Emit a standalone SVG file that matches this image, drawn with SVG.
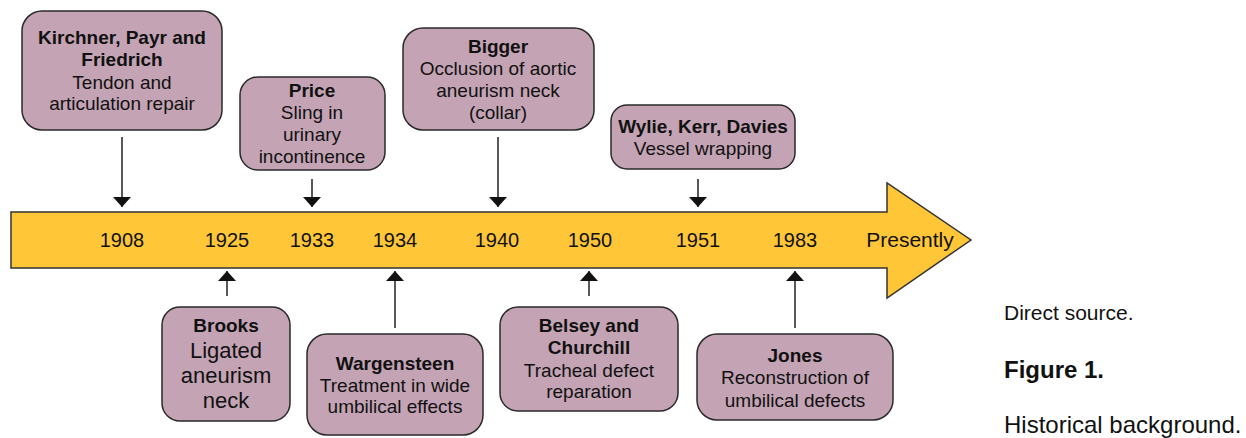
<svg xmlns="http://www.w3.org/2000/svg" width="1246" height="438" viewBox="0 0 1246 438">
<style>
.node{fill:#C4A4B4;stroke:#2a2a2a;stroke-width:1.5}
.t{font-family:"Liberation Sans",Arial,sans-serif;font-size:19px;fill:#111;text-anchor:middle}
.b{font-weight:bold}
.big{font-size:22px}
.yr{font-family:"Liberation Sans",Arial,sans-serif;font-size:20px;fill:#111;text-anchor:middle}
.pres{font-size:21px}
.cap{font-family:"Liberation Sans",Arial,sans-serif;fill:#111}
.con{stroke:#222;stroke-width:1.5;fill:none;marker-end:url(#ah)}
</style>
<defs>
<marker id="ah" viewBox="0 -9 10 18" refX="10" refY="0" markerWidth="10" markerHeight="18" markerUnits="userSpaceOnUse" orient="auto">
<path d="M0,-9 L10,0 L0,9 z" fill="#111"/>
</marker>
</defs>
<rect width="1246" height="438" fill="#fff"/>
<g id="timeline">
<polygon points="11,212 887,212 887,183 971,240 887,298 887,268 11,268" fill="#FFC638" stroke="#333" stroke-width="1.5"/>
<text class="yr" x="122" y="247">1908</text>
<text class="yr" x="227" y="247">1925</text>
<text class="yr" x="312" y="247">1933</text>
<text class="yr" x="395" y="247">1934</text>
<text class="yr" x="497" y="247">1940</text>
<text class="yr" x="590" y="247">1950</text>
<text class="yr" x="698" y="247">1951</text>
<text class="yr" x="795" y="247">1983</text>
<text class="yr pres" x="910" y="247">Presently</text>
</g>
<g id="connectors">
<line class="con" x1="122" y1="137" x2="122" y2="207"/>
<line class="con" x1="312" y1="179" x2="312" y2="207"/>
<line class="con" x1="498" y1="137" x2="498" y2="207"/>
<line class="con" x1="698" y1="179" x2="698" y2="207"/>
<line class="con" x1="227" y1="296" x2="227" y2="271"/>
<line class="con" x1="395" y1="328" x2="395" y2="271"/>
<line class="con" x1="589" y1="296" x2="589" y2="271"/>
<line class="con" x1="795" y1="328" x2="795" y2="271"/>
</g>
<g id="kirchner">
<rect class="node" x="22" y="11" width="200" height="119" rx="20"/>
<text class="t b" x="122" y="44">Kirchner, Payr and</text>
<text class="t b" x="122" y="66">Friedrich</text>
<text class="t" x="122" y="89">Tendon and</text>
<text class="t" x="122" y="110">articulation repair</text>
</g>
<g id="price">
<rect class="node" x="240" y="77" width="145" height="93" rx="18"/>
<text class="t b" x="312" y="97">Price</text>
<text class="t" x="312" y="119">Sling in</text>
<text class="t" x="312" y="141">urinary</text>
<text class="t" x="312" y="163">incontinence</text>
</g>
<g id="bigger">
<rect class="node" x="403" y="28" width="191" height="102" rx="20"/>
<text class="t b" x="498" y="53">Bigger</text>
<text class="t" x="498" y="75">Occlusion of aortic</text>
<text class="t" x="498" y="97">aneurism neck</text>
<text class="t" x="498" y="119">(collar)</text>
</g>
<g id="wylie">
<rect class="node" x="611" y="105" width="184" height="64" rx="16"/>
<text class="t b" x="703" y="133">Wylie, Kerr, Davies</text>
<text class="t" x="703" y="155">Vessel wrapping</text>
</g>
<g id="brooks">
<rect class="node" x="162" y="307" width="128" height="114" rx="18"/>
<text class="t b" x="226" y="332">Brooks</text>
<text class="t big" x="226" y="358">Ligated</text>
<text class="t big" x="226" y="383">aneurism</text>
<text class="t big" x="226" y="408">neck</text>
</g>
<g id="wargensteen">
<rect class="node" x="307" y="334" width="176" height="101" rx="20"/>
<text class="t b" x="395" y="370">Wargensteen</text>
<text class="t" x="395" y="392">Treatment in wide</text>
<text class="t" x="395" y="413">umbilical effects</text>
</g>
<g id="belsey">
<rect class="node" x="500" y="307" width="178" height="104" rx="18"/>
<text class="t b" x="589" y="332">Belsey and</text>
<text class="t b" x="589" y="354">Churchill</text>
<text class="t" x="589" y="377">Tracheal defect</text>
<text class="t" x="589" y="398">reparation</text>
</g>
<g id="jones">
<rect class="node" x="697" y="334" width="196" height="86" rx="20"/>
<text class="t b" x="795" y="362">Jones</text>
<text class="t" x="795" y="384">Reconstruction of</text>
<text class="t" x="795" y="407">umbilical defects</text>
</g>
<g id="caption">
<text class="cap" x="1004" y="320" font-size="21">Direct source.</text>
<text class="cap" x="1004" y="378" font-size="24" font-weight="bold">Figure 1.</text>
<text class="cap" x="1004" y="433" font-size="24">Historical background.</text>
</g>
</svg>
